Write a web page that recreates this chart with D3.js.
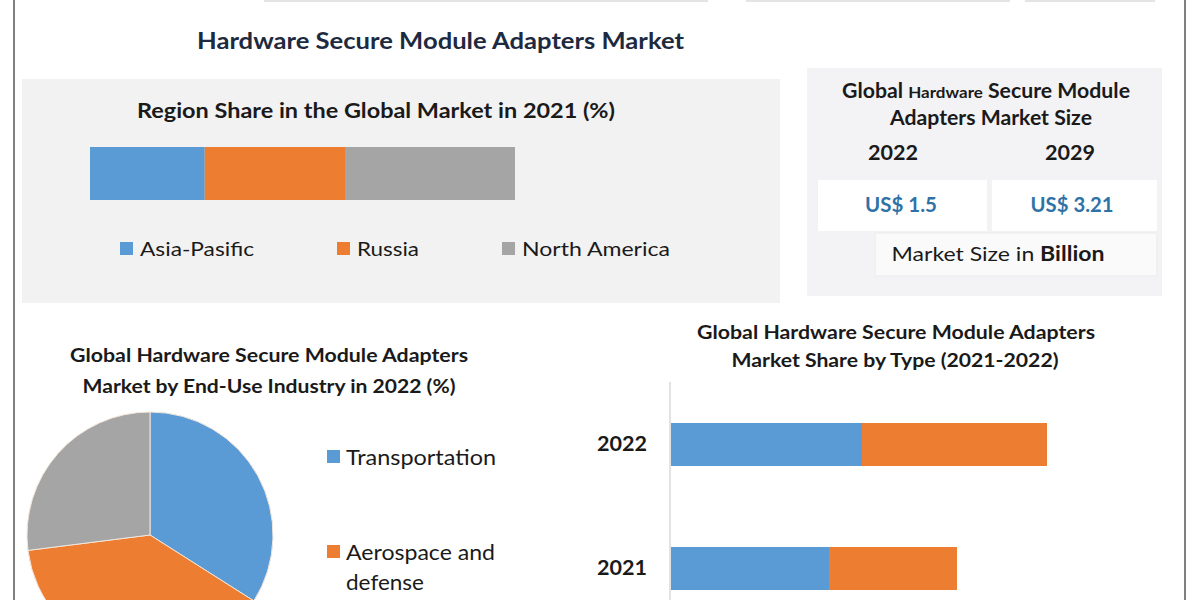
<!DOCTYPE html>
<html><head><meta charset="utf-8">
<script src="https://cdn.jsdelivr.net/npm/d3@7"></script>
<style>body{margin:0;background:#fff}svg{display:block}text{font-family:Lato,"Open Sans",sans-serif}</style>
</head><body>
<svg id="c" width="1200" height="600"></svg>
<script>
// ---- data ----
const regions = ["Asia-Pasific", "Russia", "North America"];
const regionShare = [27, 33, 40];
const industries = ["Transportation", "Aerospace and defense", "Others"];
const industryShare = [34, 39, 27];
const typeYears = ["2022", "2021"];
const typeA = [38.4, 31.8];
const typeB = [37, 25.6];
const sizeYears = ["2022", "2029"];
const sizeValues = ["US$ 1.5", "US$ 3.21"];
const colors = ["#5b9bd5", "#ed7d31", "#a5a5a5"];

const svg = d3.select("#c");
const ink = "#1a1a1a";

// faint top remnants
[[264,708],[746,1010],[1025,1155]].forEach(([a,b])=>svg.append("rect").attr("x",a).attr("y",0).attr("width",b-a).attr("height",2).attr("fill","#e4e4e4"));
// frame lines
svg.append("line").attr("x1",14).attr("x2",14).attr("y1",0).attr("y2",600).attr("stroke","#555").attr("stroke-width",1.5);
svg.append("line").attr("x1",1185).attr("x2",1185).attr("y1",0).attr("y2",600).attr("stroke","#555").attr("stroke-width",1.5);

function txt(x,y,s,size,opts={}){
  const t=svg.append("text").attr("x",x).attr("y",y).text(s).attr("font-size",size)
    .attr("fill",opts.fill||ink).attr("font-weight",opts.bold?"bold":"normal")
    .attr("text-anchor",opts.anchor||"start");
  if(opts.len) t.attr("textLength",opts.len).attr("lengthAdjust","spacingAndGlyphs");
  return t;
}

// main title
txt(197,49,"Hardware Secure Module Adapters Market",22,{bold:true,fill:"#1e2a40",len:487});

// ---- Region share box ----
svg.append("rect").attr("x",22).attr("y",79).attr("width",758).attr("height",224).attr("fill","#f2f2f2");
txt(137,118,"Region Share in the Global Market in 2021 (%)",20,{bold:true,len:478});
const xr = d3.scaleLinear().domain([0,100]).range([90,515]);
const stackR = d3.cumsum(regionShare);
svg.append("g").selectAll("rect").data(regionShare).join("rect")
  .attr("x",(d,i)=>xr(stackR[i]-d)).attr("width",d=>xr(d)-xr(0))
  .attr("y",147).attr("height",53).attr("fill",(d,i)=>colors[i]);
const legR = [[120,140,114],[337,357,62],[502,522,148]];
regions.forEach((r,i)=>{
  svg.append("rect").attr("x",legR[i][0]).attr("y",242).attr("width",13).attr("height",13).attr("fill",colors[i]);
  txt(legR[i][1],256,r,20,{len:legR[i][2]});
});

// ---- Market size box ----
svg.append("rect").attr("x",807).attr("y",68).attr("width",355).attr("height",228).attr("fill","#f3f3f5");
const t1 = svg.append("text").attr("x",986).attr("y",98).attr("text-anchor","middle").attr("font-weight","bold").attr("fill",ink)
  .attr("textLength",288).attr("lengthAdjust","spacingAndGlyphs");
t1.append("tspan").attr("font-size",20).text("Global ");
t1.append("tspan").attr("font-size",16).text("Hardware");
t1.append("tspan").attr("font-size",20).text(" Secure Module");
txt(991,125,"Adapters Market Size",20,{bold:true,anchor:"middle",len:202});
const boxX = [[818,987],[992,1157]];
const yCx = [893,1070], vCx=[901,1072], vLen=[72,83];
sizeYears.forEach((y,i)=>{
  txt(yCx[i],160,y,21,{bold:true,anchor:"middle",len:50});
  svg.append("rect").attr("x",boxX[i][0]).attr("y",180).attr("width",boxX[i][1]-boxX[i][0]).attr("height",51).attr("fill","#ffffff");
  txt(vCx[i],212,sizeValues[i],20,{bold:true,anchor:"middle",fill:"#2f72a6",len:vLen[i]});
});
svg.append("rect").attr("x",875).attr("y",233).attr("width",282).attr("height",43).attr("fill","#fafafa").attr("stroke","#ebebeb");
const mt = svg.append("text").attr("x",998).attr("y",261).attr("text-anchor","middle").attr("font-size",20).attr("fill",ink)
  .attr("textLength",213).attr("lengthAdjust","spacingAndGlyphs");
mt.append("tspan").text("Market Size in ");
mt.append("tspan").attr("font-weight","bold").text("Billion");

// ---- Pie ----
txt(269,362,"Global Hardware Secure Module Adapters",19,{bold:true,anchor:"middle",len:398});
txt(269,393,"Market by End-Use Industry in 2022 (%)",19,{bold:true,anchor:"middle",len:373});
const pie = d3.pie().sort(null).value(d=>d)(industryShare);
const arc = d3.arc().innerRadius(0).outerRadius(123);
svg.append("g").attr("transform","translate(150,535)").selectAll("path").data(pie).join("path")
  .attr("d",arc).attr("fill",(d,i)=>colors[i]).attr("stroke","#f3e6da").attr("stroke-width",1);
svg.append("rect").attr("x",327).attr("y",450).attr("width",13).attr("height",13).attr("fill",colors[0]);
txt(346,465,industries[0],21,{len:150});
svg.append("rect").attr("x",327).attr("y",545).attr("width",13).attr("height",13).attr("fill",colors[1]);
txt(346,560,"Aerospace and",21,{len:149});
txt(346,590,"defense",21,{len:78});

// ---- Type bars ----
txt(896,339,"Global Hardware Secure Module Adapters",19,{bold:true,anchor:"middle",len:398});
txt(895,367,"Market Share by Type (2021-2022)",19,{bold:true,anchor:"middle",len:327});
const xt = d3.scaleLinear().domain([0,100]).range([670,1170]);
const yt = d3.scalePoint().domain(typeYears).range([444.5,568.5]);
svg.append("line").attr("x1",670).attr("x2",670).attr("y1",382).attr("y2",600).attr("stroke","#d9d9d9").attr("stroke-width",1.5);
typeYears.forEach((yr,i)=>{
  svg.append("rect").attr("x",xt(0)+1).attr("y",yt(yr)-21.5).attr("width",xt(typeA[i])-xt(0)-1).attr("height",43).attr("fill",colors[0]);
  svg.append("rect").attr("x",xt(typeA[i])).attr("y",yt(yr)-21.5).attr("width",xt(typeB[i])-xt(0)).attr("height",43).attr("fill",colors[1]);
});
const ax = svg.append("g").attr("transform","translate(670,0)").call(d3.axisLeft(yt).tickSize(0).tickPadding(23));
ax.select(".domain").remove();
ax.selectAll("text").attr("font-size",20).attr("font-weight","bold").attr("fill",ink).attr("font-family","Lato,'Open Sans',sans-serif")
  .attr("textLength",50).attr("lengthAdjust","spacingAndGlyphs");
</script>
</body></html>
